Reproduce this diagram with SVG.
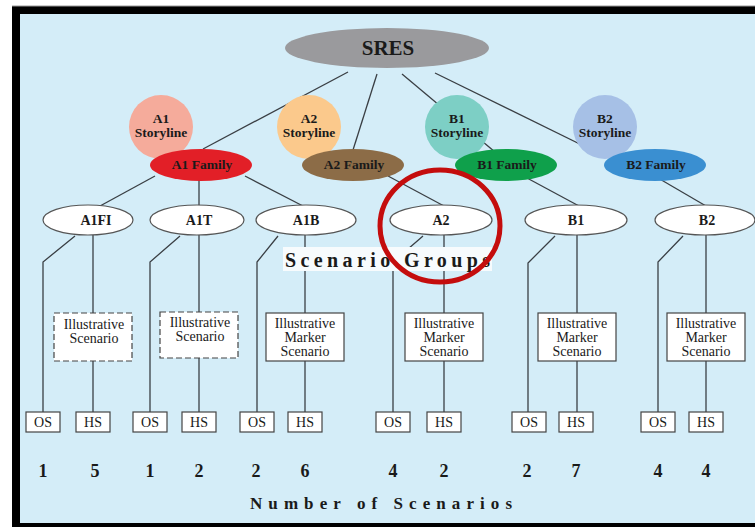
<svg xmlns="http://www.w3.org/2000/svg" width="755" height="527" viewBox="0 0 755 527">
<style>
.t{font-family:"Liberation Serif","Times New Roman",serif;fill:#1a1a1a;text-anchor:middle}
.b{font-weight:bold}
.ln{stroke:#3a3f44;stroke-width:1.3;fill:none}
.grp{fill:#ffffff;stroke:#555;stroke-width:1.2}
.box{fill:#ffffff;stroke:#444;stroke-width:1.2}
.dash{stroke-dasharray:6 3}
</style>
<rect x="0" y="0" width="755" height="527" fill="#ffffff"/>
<rect x="12" y="6" width="743" height="521" fill="#000"/>
<rect x="20" y="14" width="735" height="509" fill="#d4edf8"/>
<line x1="12" y1="6" x2="755" y2="6" stroke="#999" stroke-width="1"/>

<g id="connectors">
<line class="ln" x1="348" y1="72" x2="203" y2="149"/>
<line class="ln" x1="377" y1="74" x2="353" y2="150"/>
<line class="ln" x1="402" y1="74" x2="495" y2="152"/>
<line class="ln" x1="435" y1="73" x2="596" y2="152"/>
<line class="ln" x1="155" y1="176" x2="100" y2="206"/>
<line class="ln" x1="199" y1="180" x2="199" y2="206"/>
<line class="ln" x1="245" y1="176" x2="303" y2="206"/>
<line class="ln" x1="388" y1="176" x2="444" y2="206"/>
<line class="ln" x1="527" y1="178" x2="579" y2="206"/>
<line class="ln" x1="658" y1="178" x2="706" y2="206"/>
<polyline class="ln" points="75,236 43,262 43,412"/>
<line class="ln" x1="93" y1="235" x2="93" y2="313"/>
<line class="ln" x1="93" y1="361" x2="93" y2="412"/>
<polyline class="ln" points="180,236 150,262 150,412"/>
<line class="ln" x1="199" y1="235" x2="199" y2="312"/>
<line class="ln" x1="199" y1="358" x2="199" y2="412"/>
<polyline class="ln" points="278,236 257,262 257,412"/>
<line class="ln" x1="305" y1="235" x2="305" y2="313"/>
<line class="ln" x1="305" y1="361" x2="305" y2="412"/>
<polyline class="ln" points="423,236 393,262 393,412"/>
<line class="ln" x1="444" y1="235" x2="444" y2="313"/>
<line class="ln" x1="444" y1="361" x2="444" y2="412"/>
<polyline class="ln" points="555,236 528,263 528,412"/>
<line class="ln" x1="577" y1="235" x2="577" y2="313"/>
<line class="ln" x1="577" y1="361" x2="577" y2="412"/>
<polyline class="ln" points="683,236 658,262 658,412"/>
<line class="ln" x1="706" y1="235" x2="706" y2="313"/>
<line class="ln" x1="706" y1="361" x2="706" y2="412"/>
</g>

<g id="sres">
<ellipse cx="387" cy="48" rx="102" ry="20" fill="#9a9a9d"/>
<text class="t b" x="388" y="55" font-size="21">SRES</text>
</g>

<g id="a1-storyline">
<circle cx="161" cy="127" r="32" fill="#f5ab9b"/>
<text class="t b" x="161" y="123" font-size="13.5">A1</text>
<text class="t b" x="161" y="137" font-size="13.5">Storyline</text>
</g>
<g id="a2-storyline">
<circle cx="309" cy="127" r="32" fill="#fbc98c"/>
<text class="t b" x="309" y="123" font-size="13.5">A2</text>
<text class="t b" x="309" y="137" font-size="13.5">Storyline</text>
</g>
<g id="b1-storyline">
<circle cx="457" cy="127" r="32" fill="#7dcfc5"/>
<text class="t b" x="457" y="123" font-size="13.5">B1</text>
<text class="t b" x="457" y="137" font-size="13.5">Storyline</text>
</g>
<g id="b2-storyline">
<circle cx="605" cy="127" r="32" fill="#a6c0e6"/>
<text class="t b" x="605" y="123" font-size="13.5">B2</text>
<text class="t b" x="605" y="137" font-size="13.5">Storyline</text>
</g>

<g id="a1-family">
<ellipse cx="201" cy="165" rx="51" ry="16" fill="#e21f27"/>
<text class="t b" x="202" y="169" font-size="13.5">A1 Family</text>
</g>
<g id="a2-family">
<ellipse cx="353" cy="165" rx="51" ry="16" fill="#8c6c47"/>
<text class="t b" x="354" y="169" font-size="13.5">A2 Family</text>
</g>
<g id="b1-family">
<ellipse cx="506" cy="165" rx="51" ry="16" fill="#0fa04b"/>
<text class="t b" x="507" y="169" font-size="13.5">B1 Family</text>
</g>
<g id="b2-family">
<ellipse cx="655" cy="165" rx="51" ry="16" fill="#3a8fd1"/>
<text class="t b" x="656" y="169" font-size="13.5">B2 Family</text>
</g>

<g id="g-a1fi">
<ellipse class="grp" cx="88" cy="220" rx="45" ry="15"/>
<text class="t b" x="96" y="225" font-size="14">A1FI</text>
</g>
<g id="g-a1t">
<ellipse class="grp" cx="197" cy="220" rx="47" ry="15"/>
<text class="t b" x="199" y="225" font-size="14">A1T</text>
</g>
<g id="g-a1b">
<ellipse class="grp" cx="306" cy="220" rx="50" ry="15"/>
<text class="t b" x="306" y="225" font-size="14">A1B</text>
</g>
<g id="g-a2">
<ellipse class="grp" cx="441" cy="220" rx="51" ry="15"/>
<text class="t b" x="441" y="225" font-size="14">A2</text>
</g>
<g id="g-b1">
<ellipse class="grp" cx="576" cy="220" rx="51" ry="15"/>
<text class="t b" x="576" y="225" font-size="14">B1</text>
</g>
<g id="g-b2">
<ellipse class="grp" cx="705" cy="220" rx="50" ry="15"/>
<text class="t b" x="707" y="225" font-size="14">B2</text>
</g>

<g id="scenario-groups-label">
<rect x="283" y="247" width="209" height="24" fill="#f7fbfd"/>
<text class="t b" x="285" y="267" font-size="20" textLength="205" lengthAdjust="spacing" style="text-anchor:start">Scenario Groups</text>
</g>

<g id="ill-a1fi">
<rect class="box dash" x="54" y="313" width="78" height="48"/>
<text class="t" x="94" y="329" font-size="14">Illustrative</text>
<text class="t" x="94" y="343" font-size="14">Scenario</text>
</g>
<g id="ill-a1t">
<rect class="box dash" x="160" y="312" width="78" height="46"/>
<text class="t" x="200" y="327" font-size="14">Illustrative</text>
<text class="t" x="200" y="341" font-size="14">Scenario</text>
</g>
<g id="ill-a1b">
<rect class="box" x="266" y="313" width="78" height="48"/>
<text class="t" x="305" y="328" font-size="14">Illustrative</text>
<text class="t" x="305" y="342" font-size="14">Marker</text>
<text class="t" x="305" y="356" font-size="14">Scenario</text>
</g>
<g id="ill-a2">
<rect class="box" x="405" y="313" width="78" height="48"/>
<text class="t" x="444" y="328" font-size="14">Illustrative</text>
<text class="t" x="444" y="342" font-size="14">Marker</text>
<text class="t" x="444" y="356" font-size="14">Scenario</text>
</g>
<g id="ill-b1">
<rect class="box" x="538" y="313" width="78" height="48"/>
<text class="t" x="577" y="328" font-size="14">Illustrative</text>
<text class="t" x="577" y="342" font-size="14">Marker</text>
<text class="t" x="577" y="356" font-size="14">Scenario</text>
</g>
<g id="ill-b2">
<rect class="box" x="667" y="313" width="78" height="48"/>
<text class="t" x="706" y="328" font-size="14">Illustrative</text>
<text class="t" x="706" y="342" font-size="14">Marker</text>
<text class="t" x="706" y="356" font-size="14">Scenario</text>
</g>

<g id="os-hs">
<rect class="box" x="26" y="412" width="34" height="20"/><text class="t" x="43" y="427" font-size="14">OS</text>
<rect class="box" x="76" y="412" width="34" height="20"/><text class="t" x="93" y="427" font-size="14">HS</text>
<rect class="box" x="133" y="412" width="34" height="20"/><text class="t" x="150" y="427" font-size="14">OS</text>
<rect class="box" x="182" y="412" width="34" height="20"/><text class="t" x="199" y="427" font-size="14">HS</text>
<rect class="box" x="240" y="412" width="34" height="20"/><text class="t" x="257" y="427" font-size="14">OS</text>
<rect class="box" x="288" y="412" width="34" height="20"/><text class="t" x="305" y="427" font-size="14">HS</text>
<rect class="box" x="376" y="412" width="34" height="20"/><text class="t" x="393" y="427" font-size="14">OS</text>
<rect class="box" x="427" y="412" width="34" height="20"/><text class="t" x="444" y="427" font-size="14">HS</text>
<rect class="box" x="512" y="412" width="34" height="20"/><text class="t" x="529" y="427" font-size="14">OS</text>
<rect class="box" x="559" y="412" width="34" height="20"/><text class="t" x="576" y="427" font-size="14">HS</text>
<rect class="box" x="641" y="412" width="34" height="20"/><text class="t" x="658" y="427" font-size="14">OS</text>
<rect class="box" x="689" y="412" width="34" height="20"/><text class="t" x="706" y="427" font-size="14">HS</text>
</g>

<g id="counts">
<text class="t b" x="43" y="477" font-size="18">1</text>
<text class="t b" x="95" y="477" font-size="18">5</text>
<text class="t b" x="150" y="477" font-size="18">1</text>
<text class="t b" x="199" y="477" font-size="18">2</text>
<text class="t b" x="256" y="477" font-size="18">2</text>
<text class="t b" x="305" y="477" font-size="18">6</text>
<text class="t b" x="393" y="477" font-size="18">4</text>
<text class="t b" x="444" y="477" font-size="18">2</text>
<text class="t b" x="527" y="477" font-size="18">2</text>
<text class="t b" x="576" y="477" font-size="18">7</text>
<text class="t b" x="658" y="477" font-size="18">4</text>
<text class="t b" x="706" y="477" font-size="18">4</text>
</g>

<g id="number-of-scenarios">
<text class="t b" x="250" y="509" font-size="17" textLength="262" lengthAdjust="spacing" style="text-anchor:start">Number of Scenarios</text>
</g>

<g id="highlight">
<ellipse cx="440" cy="226" rx="60" ry="56" fill="none" stroke="#c40d0d" stroke-width="5"/>
</g>
</svg>
